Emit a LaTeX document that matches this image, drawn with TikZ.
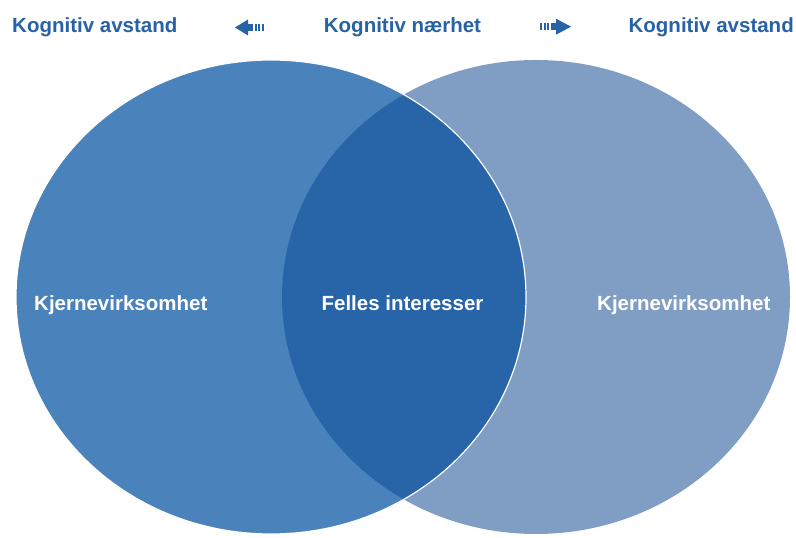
\documentclass[tikz,border=0pt]{standalone}
\usepackage{fontspec}
\setmainfont{Liberation Sans}
\usetikzlibrary{calc}
\definecolor{leftblue}{RGB}{74,131,188}
\definecolor{rightblue}{RGB}{128,158,196}
\definecolor{midblue}{RGB}{39,101,168}
\definecolor{headblue}{RGB}{40,98,166}
\tikzstyle{heading}=[font=\fontsize{20.5}{24}\selectfont\bfseries,text=headblue,inner sep=0pt]
\tikzstyle{setname}=[font=\fontsize{20.5}{24}\selectfont\bfseries,text=white,inner sep=0pt]
\tikzstyle{arrowpart}=[fill=headblue]

\begin{document}
\begin{tikzpicture}[x=1pt,y=1pt]
    \useasboundingbox (0,0) rectangle (796,538);

    % the two sets
    \coordinate (lc) at (271,241);
    \coordinate (rc) at (536,241);
    \fill[rightblue] (rc) ellipse [x radius=254, y radius=237];
    \fill[leftblue] (lc) ellipse [x radius=255, y radius=237];
    \begin{scope}
        \clip (rc) ellipse [x radius=254, y radius=237];
        \fill[midblue] (lc) ellipse [x radius=255, y radius=237];
    \end{scope}
    \draw[white,line width=1.2] (lc) ellipse [x radius=255, y radius=237];

    % headings
    \node[heading,anchor=base west] (farleft) at (12,505) {Kognitiv avstand};
    \node[heading,anchor=base] (near) at (402.5,505) {Kognitiv nærhet};
    \node[heading,anchor=base east] (farright) at (794,505) {Kognitiv avstand};

    % striped arrow to the left
    \fill[arrowpart] (235,510.5) -- (248,518.5) -- (248,502.5) -- cycle;
    \fill[arrowpart] (247.5,507) rectangle (253,514);
    \foreach \x in {254.5,258,261.5}
        \fill[arrowpart] (\x,507) rectangle (\x+2,514);

    % striped arrow to the right
    \foreach \x in {540,543.5,547}
        \fill[arrowpart] (\x,507.8) rectangle (\x+2,514.8);
    \fill[arrowpart] (550.5,507.8) rectangle (556.5,514.8);
    \fill[arrowpart] (571,511.3) -- (556,519.3) -- (556,503.3) -- cycle;

    % labels inside the sets
    \node[setname,anchor=base west] (core1) at (34,227) {Kjernevirksomhet};
    \node[setname,anchor=base] (shared) at (402.5,227) {Felles interesser};
    \node[setname,anchor=base west] (core2) at (597,227) {Kjernevirksomhet};
\end{tikzpicture}
\end{document}
